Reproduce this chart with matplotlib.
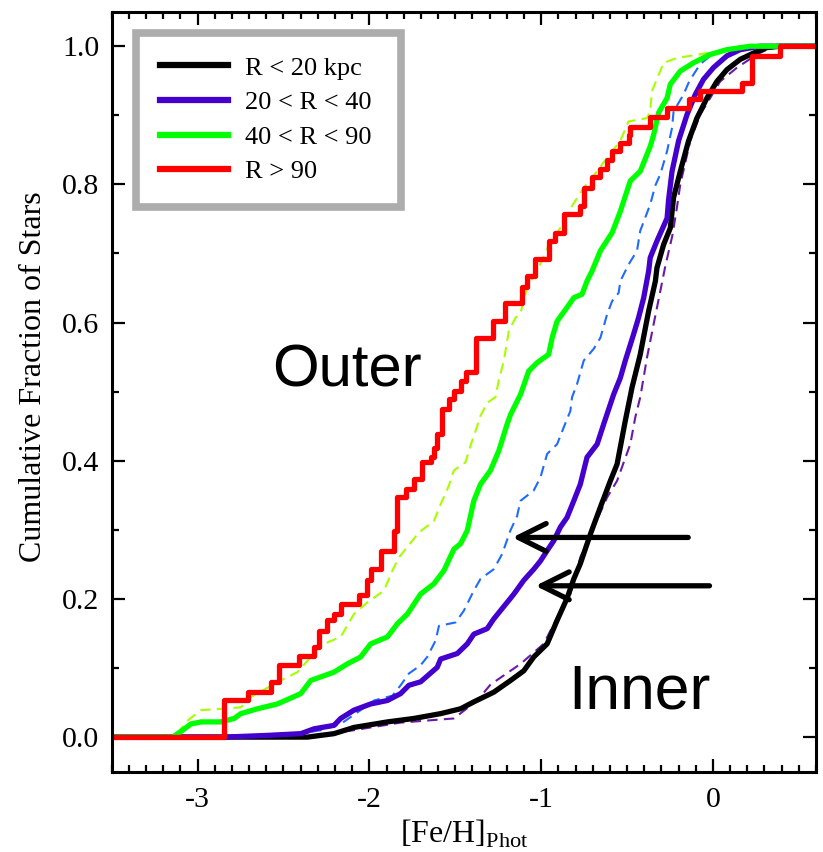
import matplotlib
matplotlib.use("Agg")
import matplotlib.pyplot as plt
from matplotlib.ticker import MultipleLocator

plt.rcParams['font.family'] = ['Liberation Serif', 'DejaVu Serif']
plt.rcParams['mathtext.fontset'] = 'custom'
plt.rcParams['mathtext.rm'] = 'Liberation Serif'

# cumulative curves: [Fe/H] and cumulative fraction
# R < 20 kpc
black_feh = [-3.5, -2.360, -2.206, -2.090, -1.895, -1.741, -1.585, -1.469, -1.392, -1.276, -1.178,
             -1.101, -1.043, -0.965, -0.907, -0.849, -0.810, -0.772, -0.713, -0.655, -0.597,
             -0.558, -0.510, -0.471, -0.423, -0.374, -0.335, -0.326, -0.287, -0.248, -0.229,
             -0.190, -0.142, -0.093, -0.035, 0.023, 0.081, 0.159, 0.236, 0.314, 0.391, 0.6]
black_frac = [0.0, 0.0, 0.005, 0.014, 0.022, 0.027, 0.034, 0.041, 0.051, 0.065, 0.082,
              0.096, 0.116, 0.135, 0.169, 0.201, 0.229, 0.251, 0.294, 0.333, 0.371,
              0.395, 0.458, 0.506, 0.554, 0.617, 0.660, 0.679, 0.713, 0.737, 0.781,
              0.819, 0.863, 0.896, 0.925, 0.949, 0.966, 0.981, 0.990, 0.998, 1.0, 1.0]

# 20 < R < 40
purple_feh = [-3.5, -2.846, -2.593, -2.399, -2.322, -2.206, -2.167, -2.090, -1.992, -1.895, -1.818,
              -1.770, -1.702, -1.605, -1.585, -1.488, -1.430, -1.392, -1.314, -1.276, -1.237,
              -1.188, -1.159, -1.101, -1.043, -1.004, -0.965, -0.927, -0.888, -0.849, -0.810,
              -0.772, -0.733, -0.674, -0.636, -0.578, -0.539, -0.510, -0.462, -0.433, -0.403,
              -0.374, -0.365, -0.326, -0.267, -0.258, -0.238, -0.200, -0.151, -0.103, -0.055,
              0.003, 0.081, 0.159, 0.275, 0.6]
purple_frac = [0.0, 0.0, 0.0025, 0.005, 0.012, 0.017, 0.027, 0.039, 0.048, 0.053, 0.063,
               0.075, 0.080, 0.101, 0.113, 0.121, 0.135, 0.149, 0.157, 0.171, 0.183,
               0.198, 0.207, 0.227, 0.243, 0.255, 0.270, 0.284, 0.304, 0.318, 0.342,
               0.366, 0.405, 0.424, 0.453, 0.496, 0.520, 0.545, 0.583, 0.607, 0.636,
               0.675, 0.694, 0.718, 0.751, 0.778, 0.819, 0.863, 0.901, 0.930, 0.952,
               0.969, 0.986, 0.995, 1.0, 1.0]

# 40 < R < 90
green_feh = [-3.5, -3.145, -3.087, -3.039, -2.980, -2.864, -2.787, -2.748, -2.651, -2.535, -2.399,
             -2.341, -2.206, -2.128, -2.051, -1.992, -1.895, -1.837, -1.779, -1.702, -1.624,
             -1.566, -1.508, -1.469, -1.430, -1.392, -1.353, -1.295, -1.247, -1.198, -1.178,
             -1.120, -1.072, -1.023, -0.956, -0.936, -0.907, -0.849, -0.810, -0.762, -0.733,
             -0.703, -0.655, -0.587, -0.539, -0.481, -0.423, -0.365, -0.345, -0.316, -0.267,
             -0.248, -0.190, -0.113, -0.016, 0.081, 0.217, 0.6]
green_frac = [0.0, 0.0, 0.010, 0.019, 0.022, 0.022, 0.027, 0.034, 0.041, 0.048, 0.063,
              0.082, 0.094, 0.106, 0.116, 0.135, 0.145, 0.164, 0.178, 0.207, 0.222,
              0.241, 0.272, 0.280, 0.299, 0.342, 0.366, 0.386, 0.414, 0.453, 0.467,
              0.496, 0.530, 0.542, 0.554, 0.578, 0.602, 0.622, 0.636, 0.641, 0.660,
              0.675, 0.704, 0.730, 0.761, 0.805, 0.819, 0.855, 0.872, 0.904, 0.925,
              0.945, 0.964, 0.976, 0.988, 0.995, 1.0, 1.0]

# R > 90 (few stars, drawn as a staircase)
red_feh = [-3.5, -2.846, -2.709, -2.574, -2.527, -2.409, -2.322, -2.293, -2.244, -2.206, -2.167,
           -2.060, -2.012, -1.992, -1.934, -1.857, -1.837, -1.789, -1.741, -1.692, -1.644,
           -1.624, -1.605, -1.576, -1.537, -1.508, -1.469, -1.440, -1.382, -1.283, -1.208,
           -1.110, -1.081, -1.033, -0.956, -0.917, -0.869, -0.772, -0.752, -0.703, -0.655,
           -0.616, -0.587, -0.539, -0.491, -0.481, -0.365, -0.267, -0.142, -0.074, 0.169,
           0.227, 0.391, 0.6]
red_frac = [0.0, 0.053, 0.065, 0.080, 0.104, 0.118, 0.130, 0.154, 0.169, 0.178, 0.193,
            0.205, 0.227, 0.243, 0.270, 0.299, 0.347, 0.359, 0.374, 0.398, 0.405,
            0.419, 0.439, 0.475, 0.489, 0.501, 0.516, 0.528, 0.578, 0.602, 0.629,
            0.651, 0.667, 0.692, 0.718, 0.730, 0.757, 0.769, 0.795, 0.810, 0.822,
            0.836, 0.848, 0.860, 0.872, 0.883, 0.897, 0.911, 0.923, 0.935, 0.947,
            0.9855, 1.0, 1.0]

# dashed comparison curves (not in legend)
ygreen_feh = [-3.5, -3.136, -3.058, -2.980, -2.748, -2.690, -2.516, -2.419, -2.341, -2.283, -2.167,
              -2.090, -2.012, -1.915, -1.866, -1.828, -1.712, -1.624, -1.585, -1.537, -1.508,
              -1.440, -1.411, -1.382, -1.353, -1.314, -1.266, -1.247, -1.217, -1.188, -1.149,
              -1.120, -1.081, -1.023, -0.958, -0.888, -0.820, -0.752, -0.684, -0.609, -0.539,
              -0.492, -0.384, -0.365, -0.355, -0.287, -0.209, 0.042, 0.217, 0.6]
ygreen_frac = [0.0, 0.0, 0.024, 0.039, 0.043, 0.058, 0.082, 0.094, 0.116, 0.133, 0.145,
               0.178, 0.195, 0.212, 0.241, 0.260, 0.296, 0.313, 0.337, 0.364, 0.386,
               0.398, 0.422, 0.443, 0.465, 0.484, 0.492, 0.516, 0.545, 0.588, 0.607,
               0.614, 0.651, 0.675, 0.711, 0.737, 0.769, 0.795, 0.816, 0.841, 0.863,
               0.891, 0.896, 0.906, 0.935, 0.976, 0.983, 0.993, 1.0, 1.0]

blue_feh = [-3.5, -2.593, -2.399, -2.283, -2.167, -2.051, -1.973, -1.866, -1.818, -1.770, -1.702,
            -1.663, -1.614, -1.595, -1.498, -1.450, -1.392, -1.353, -1.276, -1.227, -1.179,
            -1.140, -1.120, -1.043, -1.004, -0.965, -0.907, -0.869, -0.830, -0.820, -0.791,
            -0.752, -0.694, -0.655, -0.616, -0.587, -0.549, -0.539, -0.491, -0.442, -0.423,
            -0.394, -0.365, -0.336, -0.306, -0.267, -0.238, -0.229, -0.171, -0.142, -0.113,
            -0.074, -0.016, 0.120, 0.217, 0.6]
blue_frac = [0.0, 0.0, 0.005, 0.010, 0.019, 0.039, 0.053, 0.060, 0.075, 0.092, 0.104,
             0.116, 0.140, 0.161, 0.166, 0.183, 0.212, 0.229, 0.243, 0.265, 0.299,
             0.320, 0.342, 0.357, 0.376, 0.410, 0.424, 0.448, 0.472, 0.492, 0.511,
             0.545, 0.562, 0.578, 0.612, 0.631, 0.643, 0.660, 0.684, 0.704, 0.733,
             0.752, 0.771, 0.798, 0.815, 0.848, 0.882, 0.906, 0.930, 0.947, 0.959,
             0.974, 0.986, 0.998, 1.0, 1.0]

dpurple_feh = [-3.5, -2.399, -2.090, -1.818, -1.508, -1.372, -1.295, -1.120, -0.985, -0.907, -0.830,
               -0.772, -0.694, -0.616, -0.558, -0.481, -0.452, -0.423, -0.384, -0.345, -0.306,
               -0.277, -0.237, -0.213, -0.190, -0.132, -0.074, -0.016, 0.042, 0.140, 0.256,
               0.314, 0.391, 0.6]
dpurple_frac = [0.0, 0.0, 0.010, 0.021, 0.027, 0.053, 0.076, 0.106, 0.135, 0.173, 0.207,
                0.260, 0.304, 0.347, 0.371, 0.424, 0.463, 0.492, 0.549, 0.598, 0.646,
                0.682, 0.725, 0.761, 0.800, 0.863, 0.901, 0.925, 0.949, 0.969, 0.988,
                0.995, 1.0, 1.0]

fig = plt.figure(figsize=(8.23, 8.52), dpi=100)
ax = fig.add_axes([0.1357, 0.0943, 0.8558, 0.892])

dash = (5, 3)
ax.plot(ygreen_feh, ygreen_frac, color='#a6ff00', lw=1.5, dashes=dash)
ax.plot(blue_feh, blue_frac, color='#1f6bff', lw=1.5, dashes=dash)
ax.plot(dpurple_feh, dpurple_frac, color='#6a1aa8', lw=1.5, dashes=dash)

ax.plot(black_feh, black_frac, color='black', lw=3.8, label='R < 20 kpc')
ax.plot(purple_feh, purple_frac, color='#4400cc', lw=3.8, label='20 < R < 40')
ax.plot(green_feh, green_frac, color='#00ff00', lw=3.8, label='40 < R < 90')
ax.plot(red_feh, red_frac, color='#ff0000', lw=3.8, drawstyle='steps-post', label='R > 90')

# arrows and labels
arrow = dict(arrowstyle='->,head_length=1.0,head_width=0.5', lw=3.8, color='black',
             mutation_scale=20, shrinkA=0, shrinkB=0)
ax.annotate('', xy=(-1.167, 0.289), xytext=(-0.144, 0.289), arrowprops=arrow)
ax.annotate('', xy=(-1.033, 0.219), xytext=(-0.02, 0.219), arrowprops=arrow)
ax.text(-2.564, 0.507, 'Outer', family='Liberation Sans', fontsize=43, va='baseline', ha='left')
ax.text(-0.841, 0.042, 'Inner', family='Liberation Sans', fontsize=45, va='baseline', ha='left')

ax.set_xlim(-3.5, 0.6)
ax.set_ylim(-0.05, 1.05)
ax.xaxis.set_major_locator(MultipleLocator(1))
ax.xaxis.set_minor_locator(MultipleLocator(0.1))
ax.yaxis.set_major_locator(MultipleLocator(0.2))
ax.yaxis.set_minor_locator(MultipleLocator(0.1))
ax.yaxis.set_major_formatter(matplotlib.ticker.FormatStrFormatter('%.1f'))
ax.xaxis.set_major_formatter(matplotlib.ticker.FormatStrFormatter('%d'))
ax.tick_params(which='both', direction='in', top=True, right=True, width=1.6, labelsize=21.5)
ax.tick_params(which='major', length=9.5)
ax.tick_params(which='minor', length=5)
ax.tick_params(axis='x', pad=11)
ax.tick_params(axis='y', pad=9)
for s in ax.spines.values():
    s.set_linewidth(2.2)

ax.set_xlabel(r'[Fe/H]$_{\mathrm{Phot}}$', fontsize=23, labelpad=3)
ax.set_ylabel('Cumulative Fraction of Stars', fontsize=23)
ax.yaxis.set_label_coords(-0.091, 0.52)

leg = ax.legend(loc='upper left', bbox_to_anchor=(0.035, 0.972, 0.376, 0.0), mode='expand',
                fontsize=19, handlelength=2.6, handletextpad=0.65, labelspacing=0.42,
                borderpad=0.88, borderaxespad=0, frameon=True, fancybox=False)
leg.get_frame().set_edgecolor('#999999')
leg.get_frame().set_linewidth(5.5)
for h in leg.get_lines():
    h.set_linewidth(4.5)

fig.savefig('out.png', dpi=100)
